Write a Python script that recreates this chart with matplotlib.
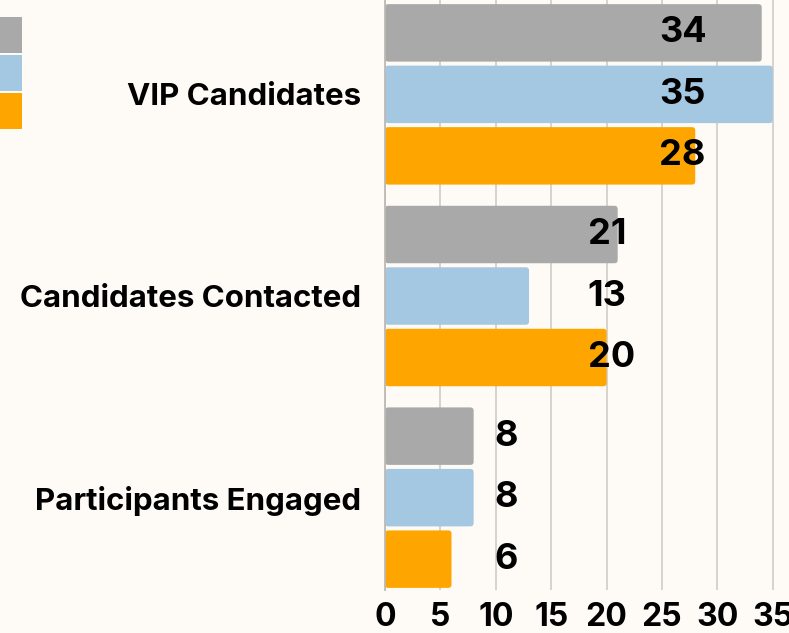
import matplotlib
matplotlib.use("Agg")
import matplotlib.pyplot as plt
from matplotlib.patches import FancyBboxPatch, Patch

categories = ["VIP Candidates", "Candidates Contacted", "Participants Engaged"]
series_a = [34, 21, 8]
series_b = [35, 13, 8]
series_c = [28, 20, 6]
xticks = [0, 5, 10, 15, 20, 25, 30, 35]

colors = ["#A9A9A9", "#A5C8E2", "#FFA500"]
bg = "#FEFBF6"
W, H = 789, 633
fig = plt.figure(figsize=(W / 100, H / 100), dpi=100, facecolor=bg)
ax = fig.add_axes([385 / W, 1 - 590 / H, 1 - 385 / W, 590 / H])
ax.set_facecolor(bg)

font = "Inter"
series = [series_a, series_b, series_c]
pitch = 0.305
bh = 0.285
xmax = (W - 385) / 11.08
ax.set_xlim(0, xmax)
ax.set_ylim(2.458, -0.468)

xpx = 11.08
ypx = 202.0
aspect = xpx / ypx
for si, vals in enumerate(series):
    off = (si - 1) * pitch
    for ci, v in enumerate(vals):
        y0 = ci + off - bh / 2
        p = FancyBboxPatch((0, y0), v, bh,
                           boxstyle="round,pad=0,rounding_size=0.3",
                           mutation_aspect=aspect,
                           facecolor=colors[si], edgecolor="none", zorder=2)
        ax.add_patch(p)

# value labels: left-aligned at a shared position within each group
label_x = [24.75, 18.3, 9.9]
for si, vals in enumerate(series):
    off = (si - 1) * pitch
    for ci, v in enumerate(vals):
        ax.text(label_x[ci], ci + off, str(v), ha="left", va="center",
                fontsize=26, fontweight="bold", family=font, color="black",
                zorder=3)

ax.set_yticks(range(len(categories)))
ax.set_yticklabels(categories, fontsize=22.5, fontweight="bold", family=font)
ax.set_xticks(xticks)
ax.set_xticklabels([str(t) for t in xticks], fontsize=23, fontweight="bold", family=font)
ax.tick_params(axis="y", length=0, pad=17)
ax.tick_params(axis="x", length=0, pad=9)

ax.grid(axis="x", color="#D3CFCA", linewidth=1.3, zorder=0)
ax.set_axisbelow(True)
for s in ["top", "right", "bottom"]:
    ax.spines[s].set_visible(False)
ax.spines["left"].set_color("#BDBAB6")
ax.spines["left"].set_linewidth(1.3)

handles = [Patch(facecolor=c, edgecolor="none") for c in colors]
fig.legend(handles, ["", "", ""], loc="upper right",
           bbox_to_anchor=(22 / W, 1 - 17 / H), markerfirst=False,
           frameon=False, borderpad=0, borderaxespad=0, handletextpad=0,
           handlelength=2.4, handleheight=2.47, labelspacing=0.11,
           prop={"family": font, "size": 14})

fig.savefig("out.png", dpi=100, facecolor=bg)
